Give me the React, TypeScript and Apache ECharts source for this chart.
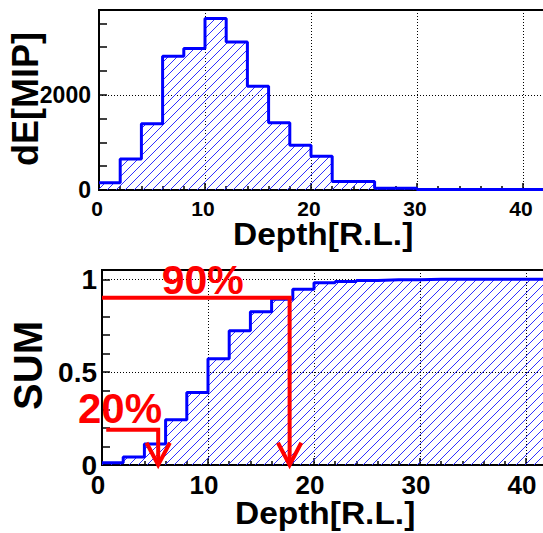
import React, { useEffect, useRef } from 'react';
import * as echarts from 'echarts';

// ---- data ----
const binLowEdges = [0, 2, 4, 6, 8, 10, 12, 14, 16, 18, 20, 22, 24, 26, 28, 30, 32, 34, 36, 38, 40, 42, 44];
const binWidth = 2;
const energyDeposit = [150, 650, 1390, 2810, 2970, 3600, 3110, 2180, 1410, 940, 710, 180, 180, 35, 35, 10, 10, 10, 10, 10, 10, 10, 10];
const cumulativeSum = [0.012, 0.043, 0.113, 0.243, 0.391, 0.572, 0.723, 0.825, 0.892, 0.946, 0.981, 0.988, 0.994, 0.997, 0.998, 1, 1, 1, 1, 1, 1, 1, 1];
const xTickLabels = ['0', '10', '20', '30', '40'];
const topYTickLabels = ['0', '2000'];
const bottomYTickLabels = ['0', '0.5', '1'];
const line20 = [[0.4, 0.19], [5.3, 0.19], [5.3, 0]];
const head20 = [[4.2, 0.12], [5.3, 0], [6.4, 0.12]];
const line90 = [[0, 0.9], [17.7, 0.9], [17.7, 0]];
const head90 = [[16.6, 0.12], [17.7, 0], [18.8, 0.12]];

const FONT = "'Liberation Sans', Arial, Helvetica, sans-serif";

function stepPoints(values: number[]) {
  const pts = binLowEdges.map((x, i) => [x, values[i]]);
  const last = binLowEdges.length - 1;
  pts.push([binLowEdges[last] + binWidth, values[last]]);
  return pts;
}

function makeHatch() {
  const s = 9;
  const c = document.createElement('canvas');
  c.width = s;
  c.height = s;
  const ctx = c.getContext('2d')!;
  ctx.strokeStyle = '#2f2fff';
  ctx.lineWidth = 1;
  ctx.beginPath();
  ctx.moveTo(-1, s + 1);
  ctx.lineTo(s + 1, -1);
  ctx.moveTo(-1, 1);
  ctx.lineTo(1, -1);
  ctx.moveTo(s - 1, s + 1);
  ctx.lineTo(s + 1, s - 1);
  ctx.stroke();
  return { image: c, repeat: 'repeat', imageWidth: s, imageHeight: s } as any;
}

function labelFmt(labels: string[]) {
  return (v: number) => {
    const s = String(Math.round(v * 1000) / 1000);
    return labels.indexOf(s) >= 0 ? s : '';
  };
}

function xAxisCfg(gridIndex: number, fontSize: number, margin: number, padRight: number) {
  return {
    type: 'value',
    gridIndex,
    min: 0,
    max: 45,
    interval: 10,
    axisLine: { show: true, onZero: false, lineStyle: { color: '#000', width: 2 } },
    axisTick: { show: true, inside: true, length: 7, lineStyle: { color: '#000', width: 1.5 } },
    minorTick: { show: true, splitNumber: 5, length: 4, lineStyle: { color: '#000', width: 1.5 } },
    splitLine: { show: true, lineStyle: { color: '#000', width: 1, type: [1, 2] } },
    axisLabel: {
      show: true,
      fontSize,
      fontWeight: 'bold',
      fontFamily: FONT,
      color: '#000',
      margin,
      padding: [0, padRight, 0, 0],
      showMaxLabel: false,
      formatter: labelFmt(xTickLabels),
    },
  };
}

function yAxisCfg(gridIndex: number, max: number, interval: number, minorSplit: number, fontSize: number, margin: number, padTop: number, labels: string[]) {
  return {
    type: 'value',
    gridIndex,
    min: 0,
    max,
    interval,
    axisLine: { show: true, onZero: false, lineStyle: { color: '#000', width: 2 } },
    axisTick: { show: true, inside: true, length: 8, lineStyle: { color: '#000', width: 1.5 } },
    minorTick: { show: true, splitNumber: minorSplit, length: 8, lineStyle: { color: '#000', width: 1.5 } },
    splitLine: { show: true, lineStyle: { color: '#000', width: 1, type: [1, 2] } },
    axisLabel: {
      show: true,
      fontSize,
      fontWeight: 'bold',
      fontFamily: FONT,
      color: '#000',
      margin,
      padding: [padTop, 0, 0, 0],
      showMaxLabel: false,
      formatter: labelFmt(labels),
    },
  };
}

function txt(text: string, x: number, y: number, size: number, opts: any = {}) {
  return {
    type: 'text',
    x,
    y,
    z: 100,
    rotation: opts.rotation || 0,
    scaleX: opts.scaleX || 1,
    style: {
      text,
      fill: opts.color || '#000',
      font: `bold ${size}px ${FONT}`,
      align: opts.align || 'left',
      textAlign: opts.align || 'left',
      verticalAlign: 'middle',
      textVerticalAlign: 'middle',
    },
  };
}

export default function App() {
  const ref = useRef<HTMLDivElement>(null);
  useEffect(() => {
    if (!ref.current) return;
    const chart = echarts.init(ref.current, undefined, { renderer: 'svg' });
    const hatch = makeHatch();
    const redLine = (data: number[][]) => ({
      type: 'line',
      xAxisIndex: 1,
      yAxisIndex: 1,
      data,
      showSymbol: false,
      symbol: 'none',
      clip: false,
      z: 10,
      lineStyle: { color: '#ff0000', width: 4, join: 'miter' },
      silent: true,
    });
    chart.setOption({
      animation: false,
      backgroundColor: '#fff',
      grid: [
        { left: 99, top: 10, width: 477, height: 180, show: true, borderColor: '#000', borderWidth: 2, backgroundColor: 'transparent' },
        { left: 102, top: 270, width: 477, height: 195, show: true, borderColor: '#000', borderWidth: 2, backgroundColor: 'transparent' },
      ],
      xAxis: [xAxisCfg(0, 21, 8, 4), xAxisCfg(1, 26, 7, 8)],
      yAxis: [
        yAxisCfg(0, 3780, 2000, 4, 23, 8, 6, topYTickLabels),
        yAxisCfg(1, 1.05, 0.5, 5, 28, 5, 9, bottomYTickLabels),
      ],
      series: [
        {
          type: 'line',
          xAxisIndex: 0,
          yAxisIndex: 0,
          step: 'end',
          data: stepPoints(energyDeposit),
          showSymbol: false,
          symbol: 'none',
          lineStyle: { color: '#0000ff', width: 3 },
          areaStyle: { color: hatch, opacity: 1 },
          silent: true,
        },
        {
          type: 'line',
          xAxisIndex: 1,
          yAxisIndex: 1,
          step: 'end',
          data: stepPoints(cumulativeSum),
          showSymbol: false,
          symbol: 'none',
          lineStyle: { color: '#0000ff', width: 3 },
          areaStyle: { color: hatch, opacity: 1 },
          silent: true,
        },
        redLine(line20),
        redLine(head20),
        redLine(line90),
        redLine(head90),
      ],
      graphic: [
        txt('dE[MIP]', 25.5, 99, 36, { rotation: Math.PI / 2, align: 'center' }),
        txt('Depth[R.L.]', 233, 234, 31, { scaleX: 1.08 }),
        txt('SUM', 28.3, 365.5, 40, { rotation: Math.PI / 2, align: 'center' }),
        txt('Depth[R.L.]', 235, 513, 31, { scaleX: 1.08 }),
        txt('90%', 161.7, 279.5, 41, { color: '#ff0000' }),
        txt('20%', 78, 408, 42, { color: '#ff0000' }),
      ],
    });
    return () => chart.dispose();
  }, []);
  return (
    <div style={{ position: 'absolute', left: 0, top: 0, width: 543, height: 533, overflow: 'hidden' }}>
      <div ref={ref} style={{ width: 600, height: 533 }} />
    </div>
  );
}
